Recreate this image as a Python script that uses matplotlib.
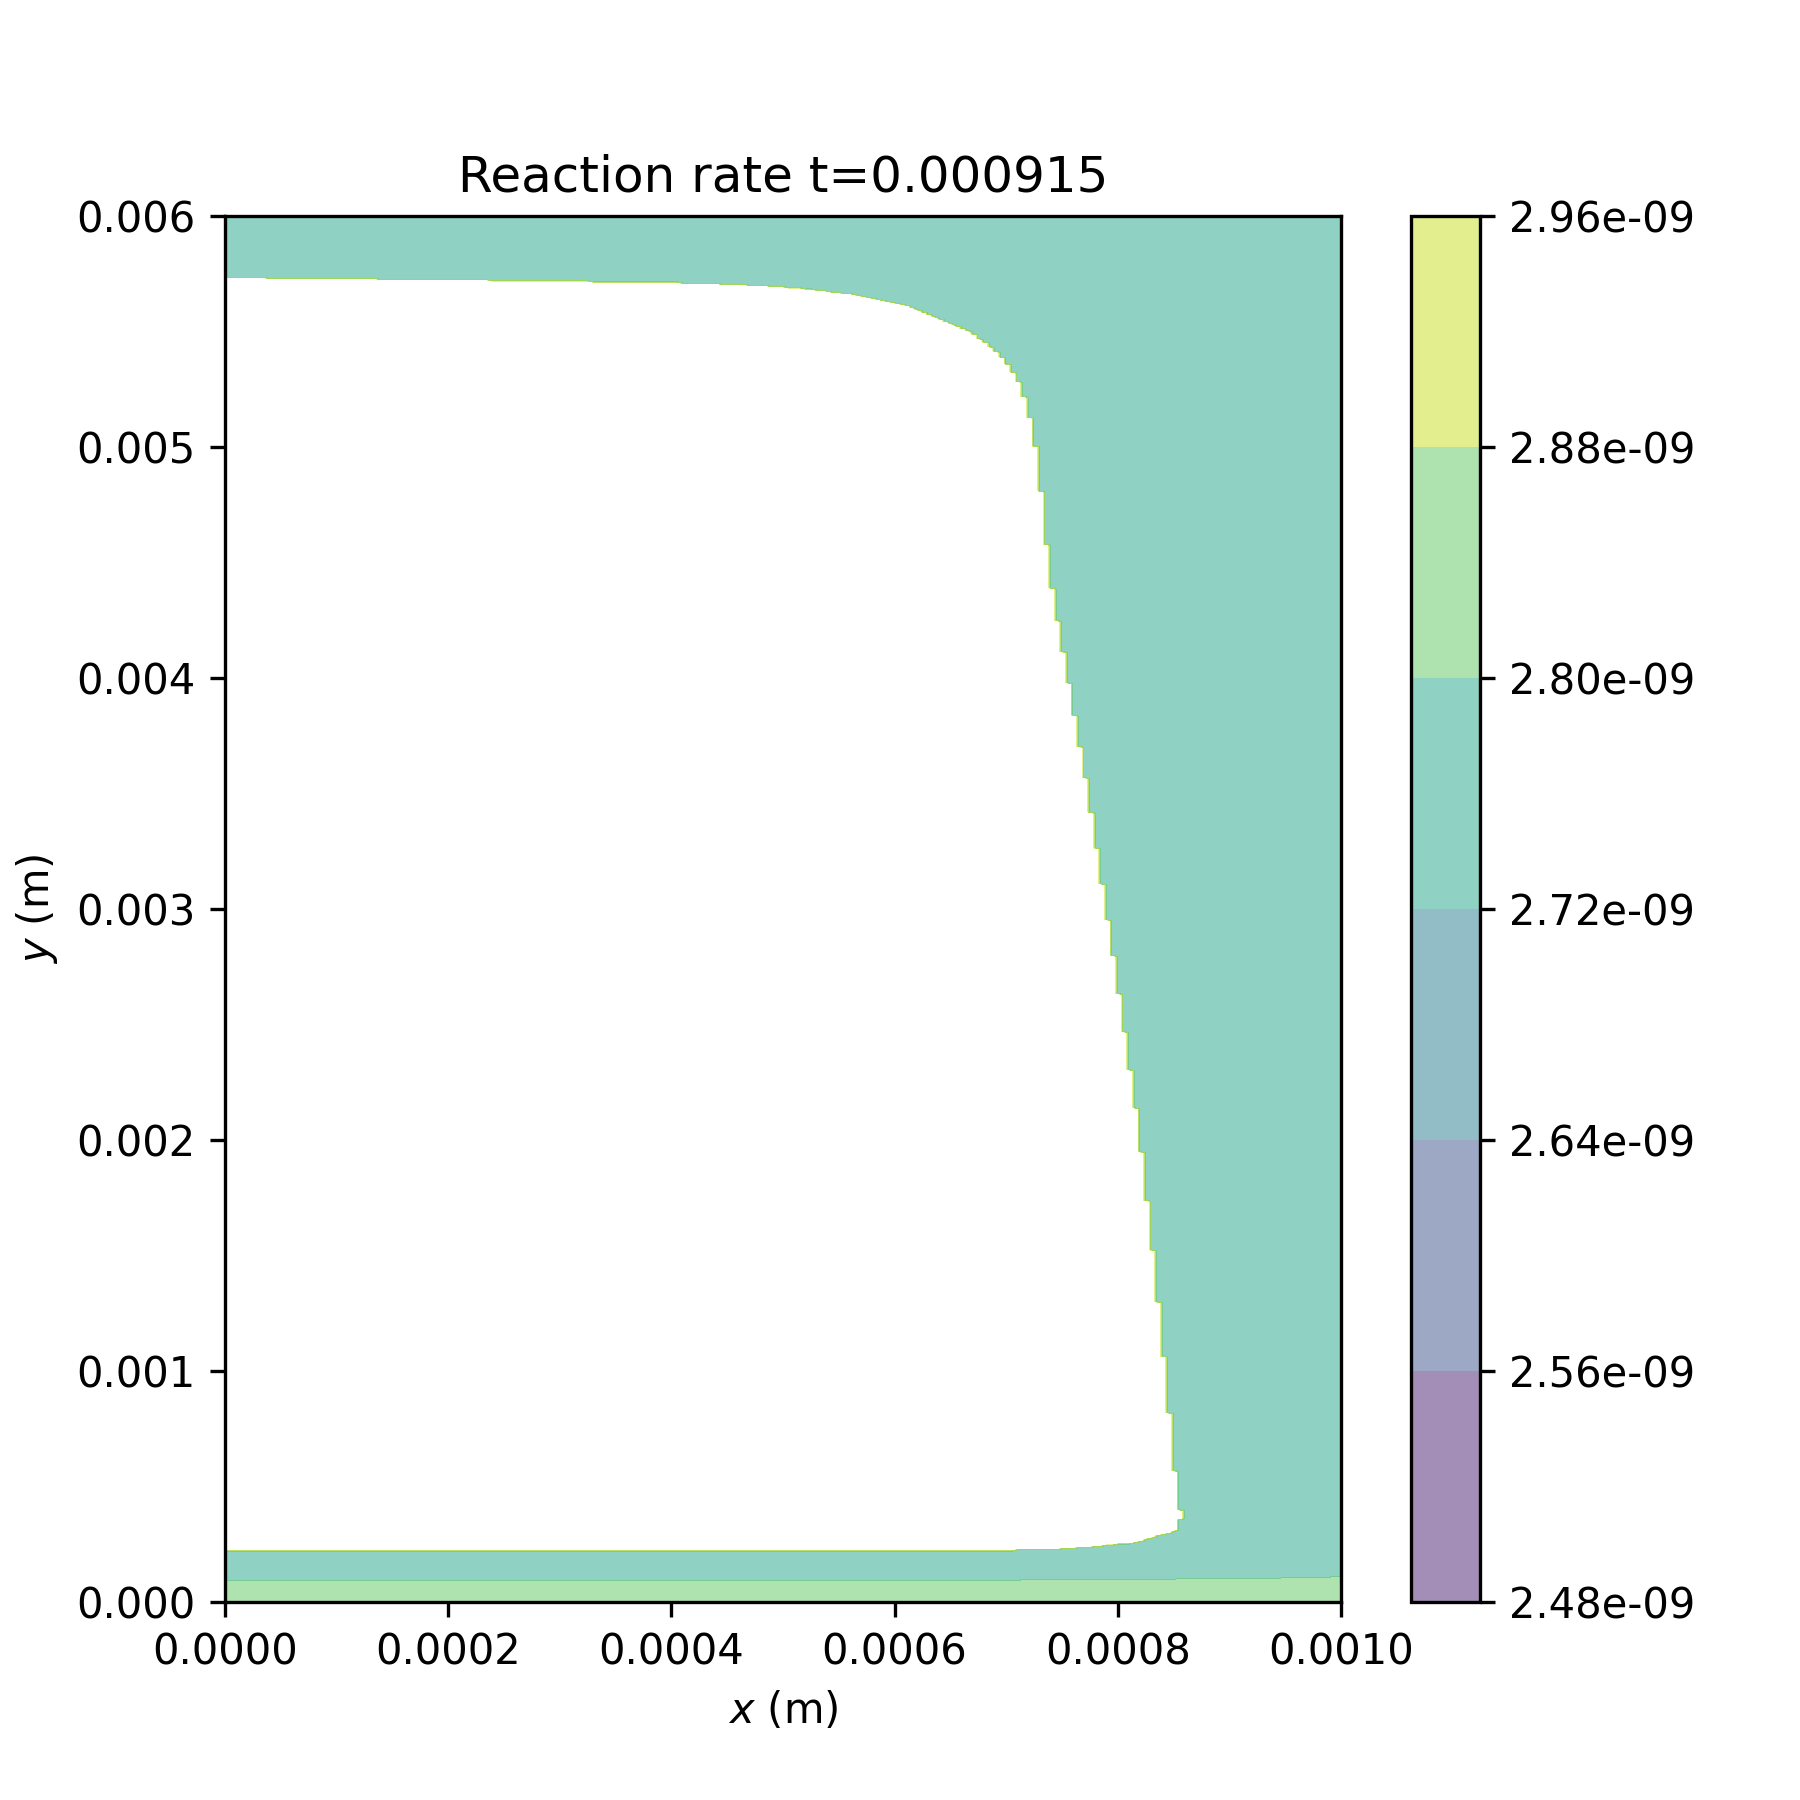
import numpy as np
import matplotlib
matplotlib.use('Agg')
import matplotlib.pyplot as plt
from matplotlib.path import Path

# field levels (reaction rate)
levels = np.linspace(2.48e-09, 2.96e-09, 7)
bulk_rate = 2.76e-09
wall_rate = 2.84e-09
front_rate = 3.3e-09

# outline of the unburnt pocket (x, y) in metres
front_x = [-1e-6, 0.000200, 0.000380, 0.000425, 0.000470, 0.000515, 0.000560,
           0.000611, 0.000641, 0.000665, 0.000682, 0.000697, 0.000709,
           0.000717, 0.000723, 0.000727, 0.000738, 0.000772, 0.000796,
           0.000817, 0.000832, 0.000842, 0.000853, 0.000857, 0.000850,
           0.000814, 0.000754, 0.000694, -1e-6]
front_y = [0.005732, 0.005722, 0.005712, 0.005709, 0.005700, 0.005686, 0.005662,
           0.005611, 0.005553, 0.005503, 0.005445, 0.005380, 0.005293,
           0.005192, 0.005062, 0.004947, 0.004441, 0.003511, 0.002765,
           0.002074, 0.001439, 0.000969, 0.000416, 0.000376, 0.000306,
           0.000256, 0.000231, 0.000223, 0.000223]

# top of the wall layer
wall_x = [0.0, 0.00070, 0.00085, 0.00095, 0.0010]
wall_y = [0.0000927, 0.0000945, 0.000100, 0.000105, 0.000111]

# lowest row near the right corner
corner_x = [0.00092, 0.000965]
corner_rate = [2.70e-09, 2.55e-09]

x = np.linspace(0, 0.001, 201)
y = np.linspace(0, 0.006, 1201)
X, Y = np.meshgrid(x, y)

Z = np.full(X.shape, bulk_rate)
Z[Y < np.interp(X, wall_x, wall_y)] = wall_rate
for cx, cr in zip(corner_x, corner_rate):
    Z[0, x >= cx] = cr

pocket = Path(np.column_stack([front_x, front_y]))
inside = pocket.contains_points(np.column_stack([X.ravel(), Y.ravel()]))
Z[inside.reshape(X.shape)] = front_rate

fig = plt.figure(figsize=(6, 6), dpi=300)
cs = plt.contourf(X, Y, Z, levels=levels, cmap='viridis', alpha=0.5)
plt.colorbar(cs, format='%.2e')
plt.title('Reaction rate t=0.000915')
plt.xlabel('$x$ (m)')
plt.ylabel('$y$ (m)')
plt.xticks(np.linspace(0, 0.001, 6))
plt.savefig('out.png', dpi=300)
